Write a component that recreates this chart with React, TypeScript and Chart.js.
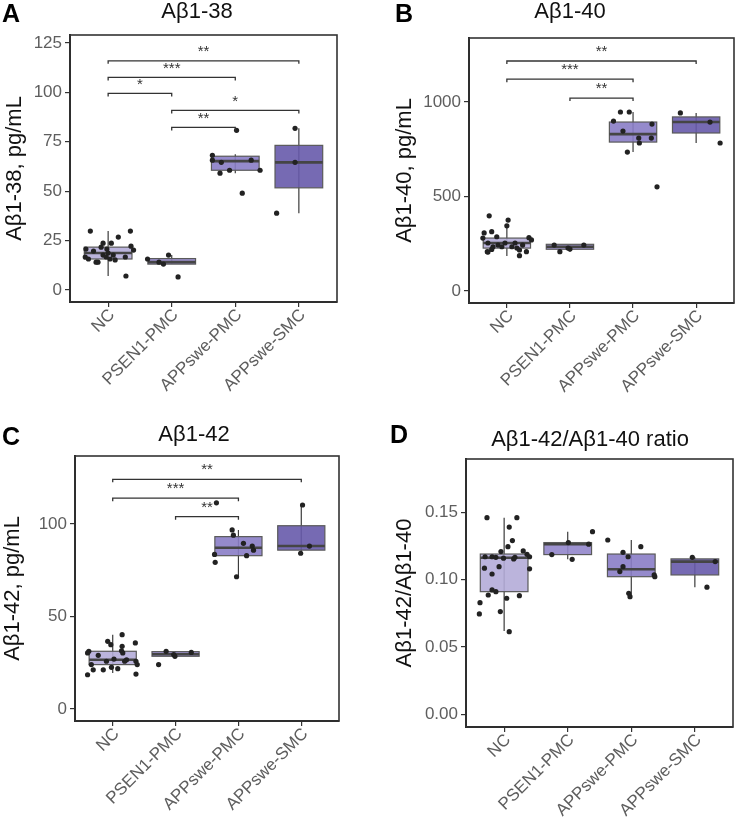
import React, { useEffect, useRef } from 'react';
import { Chart, registerables } from 'chart.js';
Chart.register(...registerables);
Chart.defaults.font.family = '"Liberation Sans", Arial, sans-serif';

const categories = ['NC', 'PSEN1-PMC', 'APPswe-PMC', 'APPswe-SMC'];
const boxFills = ['#b4acd8', '#9286cb', '#8a7dc7', '#675aab'];

// ---- Panel A: Aβ1-38 ----  box = [lowerWhisker, q1, median, q3, upperWhisker]
const ab38Box = [
  [7.1, 15.7, 18.7, 21.7, 29.8],
  [13.1, 13.1, 14.1, 15.9, 17.7],
  [59.1, 60.6, 65.2, 67.7, 68.7],
  [38.9, 51.7, 64.6, 73.2, 81.8],
];
const ab38Values = [
  [29.8, 21.7, 23.7, 23.7, 26.8, 29.8, 22.2, 20.2, 20.7, 19.7, 15.7, 14.1, 14.1, 17.7, 16.7, 18.7, 15.7, 15.2, 16.7, 7.1, 20.7, 17.7, 16.7],
  [15.7, 14.1, 13.1, 17.7, 6.6],
  [68.2, 65.7, 64.6, 59.1, 60.6, 80.8, 49.0, 65.7, 60.6],
  [64.6, 81.8, 38.9],
];
const ab38Jitter = [
  [-0.28, -0.11, -0.08, 0.05, 0.16, 0.35, 0.36, 0.4, -0.35, -0.23, -0.31, -0.19, -0.16, -0.08, -0.03, 0.0, 0.03, 0.11, 0.27, 0.28, -0.02, 0.08, -0.36],
  [-0.38, -0.2, -0.13, -0.05, 0.1],
  [-0.36, -0.36, -0.22, -0.24, -0.09, 0.02, 0.11, 0.25, 0.39],
  [-0.06, -0.06, -0.35],
];
const ab38Ticks = [0, 25, 50, 75, 100, 125];
const ab38Brackets: [number, number, number, string][] = [
  [0, 3, 116, '**'], [0, 2, 107.6, '***'], [0, 1, 99.5, '*'], [1, 3, 90.9, '*'], [1, 2, 82.3, '**'],
];

// ---- Panel B: Aβ1-40 ----
const ab40Box = [
  [185, 227, 254, 280, 345],
  [208, 221, 234, 247, 247],
  [735, 788, 830, 894, 947],
  [783, 836, 894, 921, 942],
];
const ab40Values = [
  [398, 375, 307, 314, 287, 280, 254, 234, 243, 254, 234, 227, 217, 187, 243, 208, 282, 270, 208, 220, 254, 234, 345, 206],
  [243, 208, 227, 222, 243],
  [899, 947, 947, 846, 735, 809, 783, 883, 809, 551],
  [942, 894, 783],
];
const ab40Jitter = [
  [-0.28, 0.02, -0.36, -0.24, -0.16, -0.38, -0.3, -0.22, -0.14, -0.03, 0.08, 0.16, 0.2, 0.2, 0.25, 0.31, 0.35, 0.39, -0.31, -0.24, 0.13, -0.08, 0.0, -0.3],
  [-0.25, -0.16, -0.03, 0.0, 0.22],
  [-0.31, -0.2, -0.06, -0.16, -0.09, 0.09, 0.1, 0.3, 0.29, 0.38],
  [-0.25, 0.22, 0.38],
];
const ab40Ticks = [0, 500, 1000];
const ab40Brackets: [number, number, number, string][] = [
  [0, 3, 1217, '**'], [0, 2, 1121, '***'], [1, 2, 1021, '**'],
];

// ---- Panel C: Aβ1-42 ----
const ab42Box = [
  [19.5, 24.0, 26.6, 31.2, 40.2],
  [28.5, 28.5, 29.6, 31.0, 31.2],
  [71.5, 82.9, 87.2, 93.2, 96.8],
  [84.2, 85.9, 88.1, 99.1, 110.3],
];
const ab42Values = [
  [40.2, 36.6, 34.8, 35.7, 33.9, 31.5, 30.3, 31.2, 30.3, 29.0, 27.0, 26.6, 25.8, 25.8, 24.0, 24.0, 21.2, 21.2, 22.5, 21.8, 18.5, 18.9, 25.8],
  [31.2, 29.4, 28.5, 30.6, 24.0],
  [96.8, 94.0, 83.6, 79.3, 71.5, 89.6, 88.1, 85.9, 82.9, 111.5],
  [110.3, 88.1, 84.2],
];
const ab42Jitter = [
  [0.15, -0.08, -0.03, 0.36, 0.15, 0.14, 0.16, -0.38, -0.4, -0.23, 0.02, 0.22, 0.19, 0.37, 0.39, -0.34, -0.31, -0.15, -0.02, 0.08, -0.4, 0.37, -0.1],
  [-0.15, -0.03, -0.01, 0.25, -0.27],
  [-0.1, -0.08, -0.38, -0.37, -0.03, 0.08, 0.22, 0.24, 0.13, -0.35],
  [0.02, 0.13, -0.01],
];
const ab42Ticks = [0, 50, 100];
const ab42Brackets: [number, number, number, string][] = [
  [0, 3, 124.2, '**'], [0, 2, 114, '***'], [1, 2, 104, '**'],
];

// ---- Panel D: Aβ1-42/Aβ1-40 ratio ----
const ratioBox = [
  [0.062, 0.0911, 0.1163, 0.119, 0.146],
  [0.1151, 0.1186, 0.1263, 0.1275, 0.1356],
  [0.0874, 0.1022, 0.1077, 0.119, 0.1294],
  [0.0944, 0.1035, 0.1134, 0.1154, 0.1166],
];
const ratioValues = [
  [0.146, 0.146, 0.139, 0.129, 0.1245, 0.1208, 0.1213, 0.1188, 0.117, 0.117, 0.117, 0.1166, 0.1159, 0.1154, 0.1166, 0.1085, 0.1096, 0.108, 0.1042, 0.0924, 0.0911, 0.0886, 0.0881, 0.0862, 0.0829, 0.0763, 0.0746, 0.0614],
  [0.1186, 0.1151, 0.1275, 0.1263, 0.1356],
  [0.1294, 0.1245, 0.1203, 0.117, 0.1096, 0.106, 0.1035, 0.1022, 0.0899, 0.0874],
  [0.1166, 0.1134, 0.0944],
];
const ratioJitter = [
  [-0.27, 0.2, 0.08, 0.13, 0.06, -0.05, 0.3, 0.36, 0.4, -0.3, -0.19, -0.13, -0.01, 0.15, 0.17, -0.31, -0.08, 0.4, -0.19, -0.19, -0.13, -0.25, 0.24, 0.04, -0.38, -0.06, -0.39, 0.08],
  [-0.25, 0.07, 0.01, 0.33, 0.39],
  [-0.37, 0.15, -0.13, -0.05, -0.13, -0.18, 0.36, 0.37, -0.04, -0.02],
  [-0.04, 0.32, 0.19],
];
const ratioTicks = [0, 0.05, 0.1, 0.15];
const ratioBrackets: [number, number, number, string][] = [];

type Panel = {
  left: number; top: number; W: number; H: number;
  area: { l: number; t: number; r: number; b: number };
  yMin: number; yMax: number; ticks: number[]; fmt: (v: number) => string;
  yTitle: string; yTitlePad: number;
  title: string; titleX: number; titleBase: number;
  letter: string; letterX: number; letterBase: number;
  box: number[][]; values: number[][]; jitter: number[][];
  brackets: [number, number, number, string][];
};

const panels: Panel[] = [
  {
    left: 0, top: 0, W: 372, H: 415, area: { l: 70, t: 35, r: 337, b: 302 },
    yMin: -6.07, yMax: 129.05, ticks: ab38Ticks, fmt: (v) => String(v),
    yTitle: 'Aβ1-38, pg/mL', yTitlePad: 1.5,
    title: 'Aβ1-38', titleX: 197, titleBase: 18, letter: 'A', letterX: 2, letterBase: 22,
    box: ab38Box, values: ab38Values, jitter: ab38Jitter, brackets: ab38Brackets,
  },
  {
    left: 372, top: 0, W: 372, H: 415, area: { l: 97, t: 38, r: 362, b: 303 },
    yMin: -63.5, yMax: 1338.6, ticks: ab40Ticks, fmt: (v) => String(v),
    yTitle: 'Aβ1-40, pg/mL', yTitlePad: 20,
    title: 'Aβ1-40', titleX: 198, titleBase: 18, letter: 'B', letterX: 23, letterBase: 22,
    box: ab40Box, values: ab40Values, jitter: ab40Jitter, brackets: ab40Brackets,
  },
  {
    left: 0, top: 415, W: 372, H: 416, area: { l: 75, t: 41, r: 339, b: 306 },
    yMin: -6.5, yMax: 136.8, ticks: ab42Ticks, fmt: (v) => String(v),
    yTitle: 'Aβ1-42, pg/mL', yTitlePad: 0,
    title: 'Aβ1-42', titleX: 194, titleBase: 26, letter: 'C', letterX: 2, letterBase: 30,
    box: ab42Box, values: ab42Values, jitter: ab42Jitter, brackets: ab42Brackets,
  },
  {
    left: 372, top: 415, W: 372, H: 416, area: { l: 94, t: 44, r: 361, b: 312 },
    yMin: -0.0093, yMax: 0.1895, ticks: ratioTicks, fmt: (v) => v.toFixed(2),
    yTitle: 'Aβ1-42/Aβ1-40', yTitlePad: 20,
    title: 'Aβ1-42/Aβ1-40 ratio', titleX: 218, titleBase: 31, letter: 'D', letterX: 18, letterBase: 28,
    box: ratioBox, values: ratioValues, jitter: ratioJitter, brackets: ratioBrackets,
  },
];

function makePlugin(p: Panel) {
  return {
    id: 'boxes',
    beforeDatasetsDraw(chart: any) {
      const { ctx, scales } = chart;
      const x = scales.x, y = scales.y;
      p.box.forEach((b, i) => {
        const cx = x.getPixelForValue(i);
        const hw = x.getPixelForValue(i + 0.375) - cx;
        const [lo, q1, med, q3, hi] = b.map((v) => y.getPixelForValue(v));
        ctx.save();
        ctx.strokeStyle = '#3c3c3c';
        ctx.lineWidth = 1.2;
        ctx.beginPath();
        ctx.moveTo(cx, lo);
        ctx.lineTo(cx, hi);
        ctx.stroke();
        ctx.globalAlpha = 0.9;
        ctx.fillStyle = boxFills[i];
        ctx.fillRect(cx - hw, q3, 2 * hw, q1 - q3);
        ctx.globalAlpha = 1;
        ctx.strokeStyle = '#5a5a5a';
        ctx.lineWidth = 1.2;
        ctx.strokeRect(cx - hw, q3, 2 * hw, q1 - q3);
        ctx.strokeStyle = '#454545';
        ctx.lineWidth = 2.6;
        ctx.beginPath();
        ctx.moveTo(cx - hw, med);
        ctx.lineTo(cx + hw, med);
        ctx.stroke();
        ctx.restore();
      });
    },
    afterDatasetsDraw(chart: any) {
      const { ctx, scales } = chart;
      const x = scales.x, y = scales.y;
      ctx.save();
      for (const [a, b, yv, lab] of p.brackets) {
        const x1 = x.getPixelForValue(a), x2 = x.getPixelForValue(b), yy = y.getPixelForValue(yv);
        ctx.strokeStyle = '#333';
        ctx.lineWidth = 1.3;
        ctx.beginPath();
        ctx.moveTo(x1, yy + 3);
        ctx.lineTo(x1, yy);
        ctx.lineTo(x2, yy);
        ctx.lineTo(x2, yy + 3);
        ctx.stroke();
        ctx.fillStyle = '#333';
        ctx.font = '15px "Liberation Sans", Arial, sans-serif';
        ctx.textAlign = 'center';
        ctx.textBaseline = 'middle';
        ctx.fillText(lab, (x1 + x2) / 2, yy - 9);
      }
      ctx.restore();
    },
    afterDraw(chart: any) {
      const { ctx, chartArea } = chart;
      ctx.save();
      ctx.strokeStyle = '#333';
      ctx.lineWidth = 1.6;
      ctx.strokeRect(chartArea.left, chartArea.top, chartArea.right - chartArea.left, chartArea.bottom - chartArea.top);
      ctx.fillStyle = '#111';
      ctx.textBaseline = 'alphabetic';
      ctx.textAlign = 'center';
      ctx.font = '22px "Liberation Sans", Arial, sans-serif';
      ctx.fillText(p.title, p.titleX, p.titleBase);
      ctx.textAlign = 'left';
      ctx.fillStyle = '#000';
      ctx.font = 'bold 25px "Liberation Sans", Arial, sans-serif';
      ctx.fillText(p.letter, p.letterX, p.letterBase);
      ctx.restore();
    },
  };
}

function PanelChart({ p }: { p: Panel }) {
  const ref = useRef<HTMLCanvasElement>(null);
  useEffect(() => {
    if (!ref.current) return;
    const pts: { x: number; y: number }[] = [];
    p.values.forEach((vals, i) => vals.forEach((v, k) => pts.push({ x: i + p.jitter[i][k], y: v })));
    const chart = new Chart(ref.current, {
      type: 'scatter',
      data: {
        datasets: [{
          data: pts,
          pointRadius: 2.6,
          pointBackgroundColor: '#222',
          pointBorderWidth: 0,
          backgroundColor: '#222',
        }],
      },
      plugins: [makePlugin(p)],
      options: {
        animation: false,
        responsive: false,
        devicePixelRatio: 1,
        layout: { padding: { left: 0, top: p.area.t, right: p.W - p.area.r, bottom: 0 } },
        plugins: { legend: { display: false }, tooltip: { enabled: false }, title: { display: false } },
        scales: {
          x: {
            type: 'linear', min: -0.6, max: 3.6,
            afterBuildTicks: (s: any) => { s.ticks = categories.map((_, i) => ({ value: i })); },
            afterFit: (s: any) => { s.height = p.H - p.area.b; },
            ticks: {
              callback: (v: any) => categories[v] ?? '',
              minRotation: 45, maxRotation: 45, autoSkip: false,
              color: '#5e5e5e', font: { size: 17 }, padding: -2, labelOffset: 4,
            },
            grid: { display: true, drawOnChartArea: false, drawTicks: true, tickLength: 5, color: '#333', lineWidth: 1.2 },
            border: { display: true, color: '#222', width: 2 },
          },
          y: {
            type: 'linear', min: p.yMin, max: p.yMax,
            afterBuildTicks: (s: any) => { s.ticks = p.ticks.map((v) => ({ value: v })); },
            afterFit: (s: any) => { s.width = p.area.l; },
            ticks: { callback: (v: any) => p.fmt(Number(v)), color: '#5e5e5e', font: { size: 17 }, padding: 3 },
            grid: { display: true, drawOnChartArea: false, drawTicks: true, tickLength: 5, color: '#333', lineWidth: 1.2 },
            border: { display: true, color: '#222', width: 2 },
            title: { display: true, text: p.yTitle, color: '#111', font: { size: 22 }, padding: { top: p.yTitlePad, bottom: 0 } },
          },
        },
      },
    } as any);
    return () => chart.destroy();
  }, [p]);
  return (
    <canvas
      ref={ref}
      width={p.W}
      height={p.H}
      style={{ position: 'absolute', left: p.left, top: p.top, width: p.W, height: p.H }}
    />
  );
}

export default function App() {
  return (
    <div style={{ position: 'absolute', left: 0, top: 0, width: 744, height: 831, background: '#fff' }}>
      {panels.map((p, i) => <PanelChart key={i} p={p} />)}
    </div>
  );
}
